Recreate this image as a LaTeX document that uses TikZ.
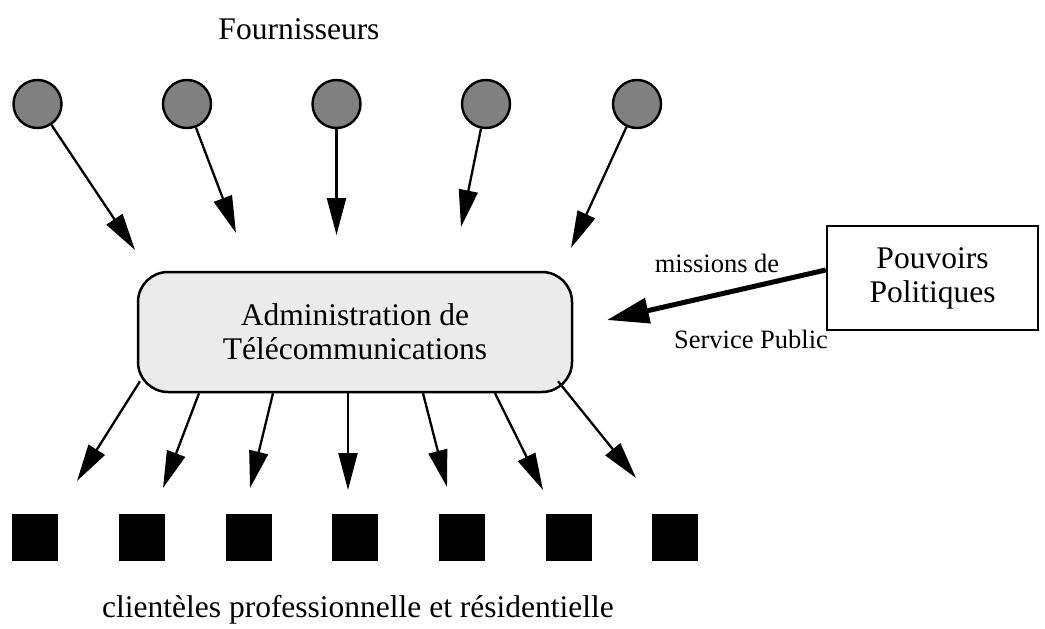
\documentclass[tikz,border=0pt]{standalone}
\usepackage{fontspec}
\setmainfont{Liberation Serif}
\usetikzlibrary{arrows.meta,calc}
\begin{document}
\begin{tikzpicture}[x=1pt,y=-1pt,
  supplier/.style={circle, draw, line width=2.4pt, fill=black!50, minimum size=48pt, inner sep=0pt},
  client/.style={rectangle, fill=black, minimum width=46pt, minimum height=47pt, inner sep=0pt},
  arr/.style={line width=2.3pt, -{Triangle[length=37pt,width=19pt]}},
  bigarr/.style={line width=5pt, -{Triangle[length=42pt,width=25pt]}},
  lbl/.style={font=\fontsize{31.5}{34}\selectfont, align=center},
  small/.style={font=\fontsize{26.5}{30}\selectfont},
  adminbox/.style={draw, line width=2.5pt, rounded corners=30pt, fill=black!8, minimum width=434pt, minimum height=120pt, lbl},
  powerbox/.style={draw, line width=2.5pt, minimum width=211pt, minimum height=104pt, lbl}
]
\useasboundingbox[fill=white] (0,0) rectangle (1045,629);

% labels
\node[lbl, anchor=base] (four) at (299,39) {Fournisseurs};
\node[small, anchor=base] (miss) at (717,272) {missions de};
\node[small, anchor=base] (serv) at (751,348) {Service Public};
\node[lbl, anchor=base] (cli) at (358,617) {clientèles professionnelle et résidentielle};

% suppliers
\foreach \i/\x in {1/37.5,2/187,3/336.5,4/486,5/637}
  \node[supplier] (c\i) at (\x,104) {};

% main boxes
\node[adminbox] (admin) at (355,332) {Administration de\\Télécommunications};
\node[powerbox] (pp) at (932.5,278) {Pouvoirs\\Politiques};

% clients
\foreach \i/\x in {1/35,2/142,3/249,4/355,5/462,6/569,7/675}
  \node[client] (k\i) at (\x,537.5) {};

% arrow tips (free ends)
\coordinate (t1) at (135,250);
\coordinate (t2) at (236,233);
\coordinate (t3) at (336.5,235);
\coordinate (t4) at (461,227);
\coordinate (t5) at (571,248);
\coordinate (b1) at (77,481);
\coordinate (b2) at (163,488);
\coordinate (b3) at (250,488);
\coordinate (b4) at (348,490);
\coordinate (b5) at (447,487);
\coordinate (b6) at (543,490);
\coordinate (b7) at (636,478);
\coordinate (pt) at (607,320);

% supplier arrows
\foreach \i in {1,...,5}
  \draw[arr] (c\i) -- (t\i);

% client arrows
\draw[arr] ([xshift=-215pt,yshift=12pt]admin.south) -- (b1);
\draw[arr] ([xshift=-156pt]admin.south) -- (b2);
\draw[arr] ([xshift=-82pt]admin.south) -- (b3);
\draw[arr] ([xshift=-7pt]admin.south) -- (b4);
\draw[arr] ([xshift=68pt]admin.south) -- (b5);
\draw[arr] ([xshift=140pt]admin.south) -- (b6);
\draw[arr] ([xshift=203pt,yshift=12pt]admin.south) -- (b7);

% political arrow
\draw[bigarr] ([yshift=8pt]pp.west) -- (pt);
\end{tikzpicture}
\end{document}
